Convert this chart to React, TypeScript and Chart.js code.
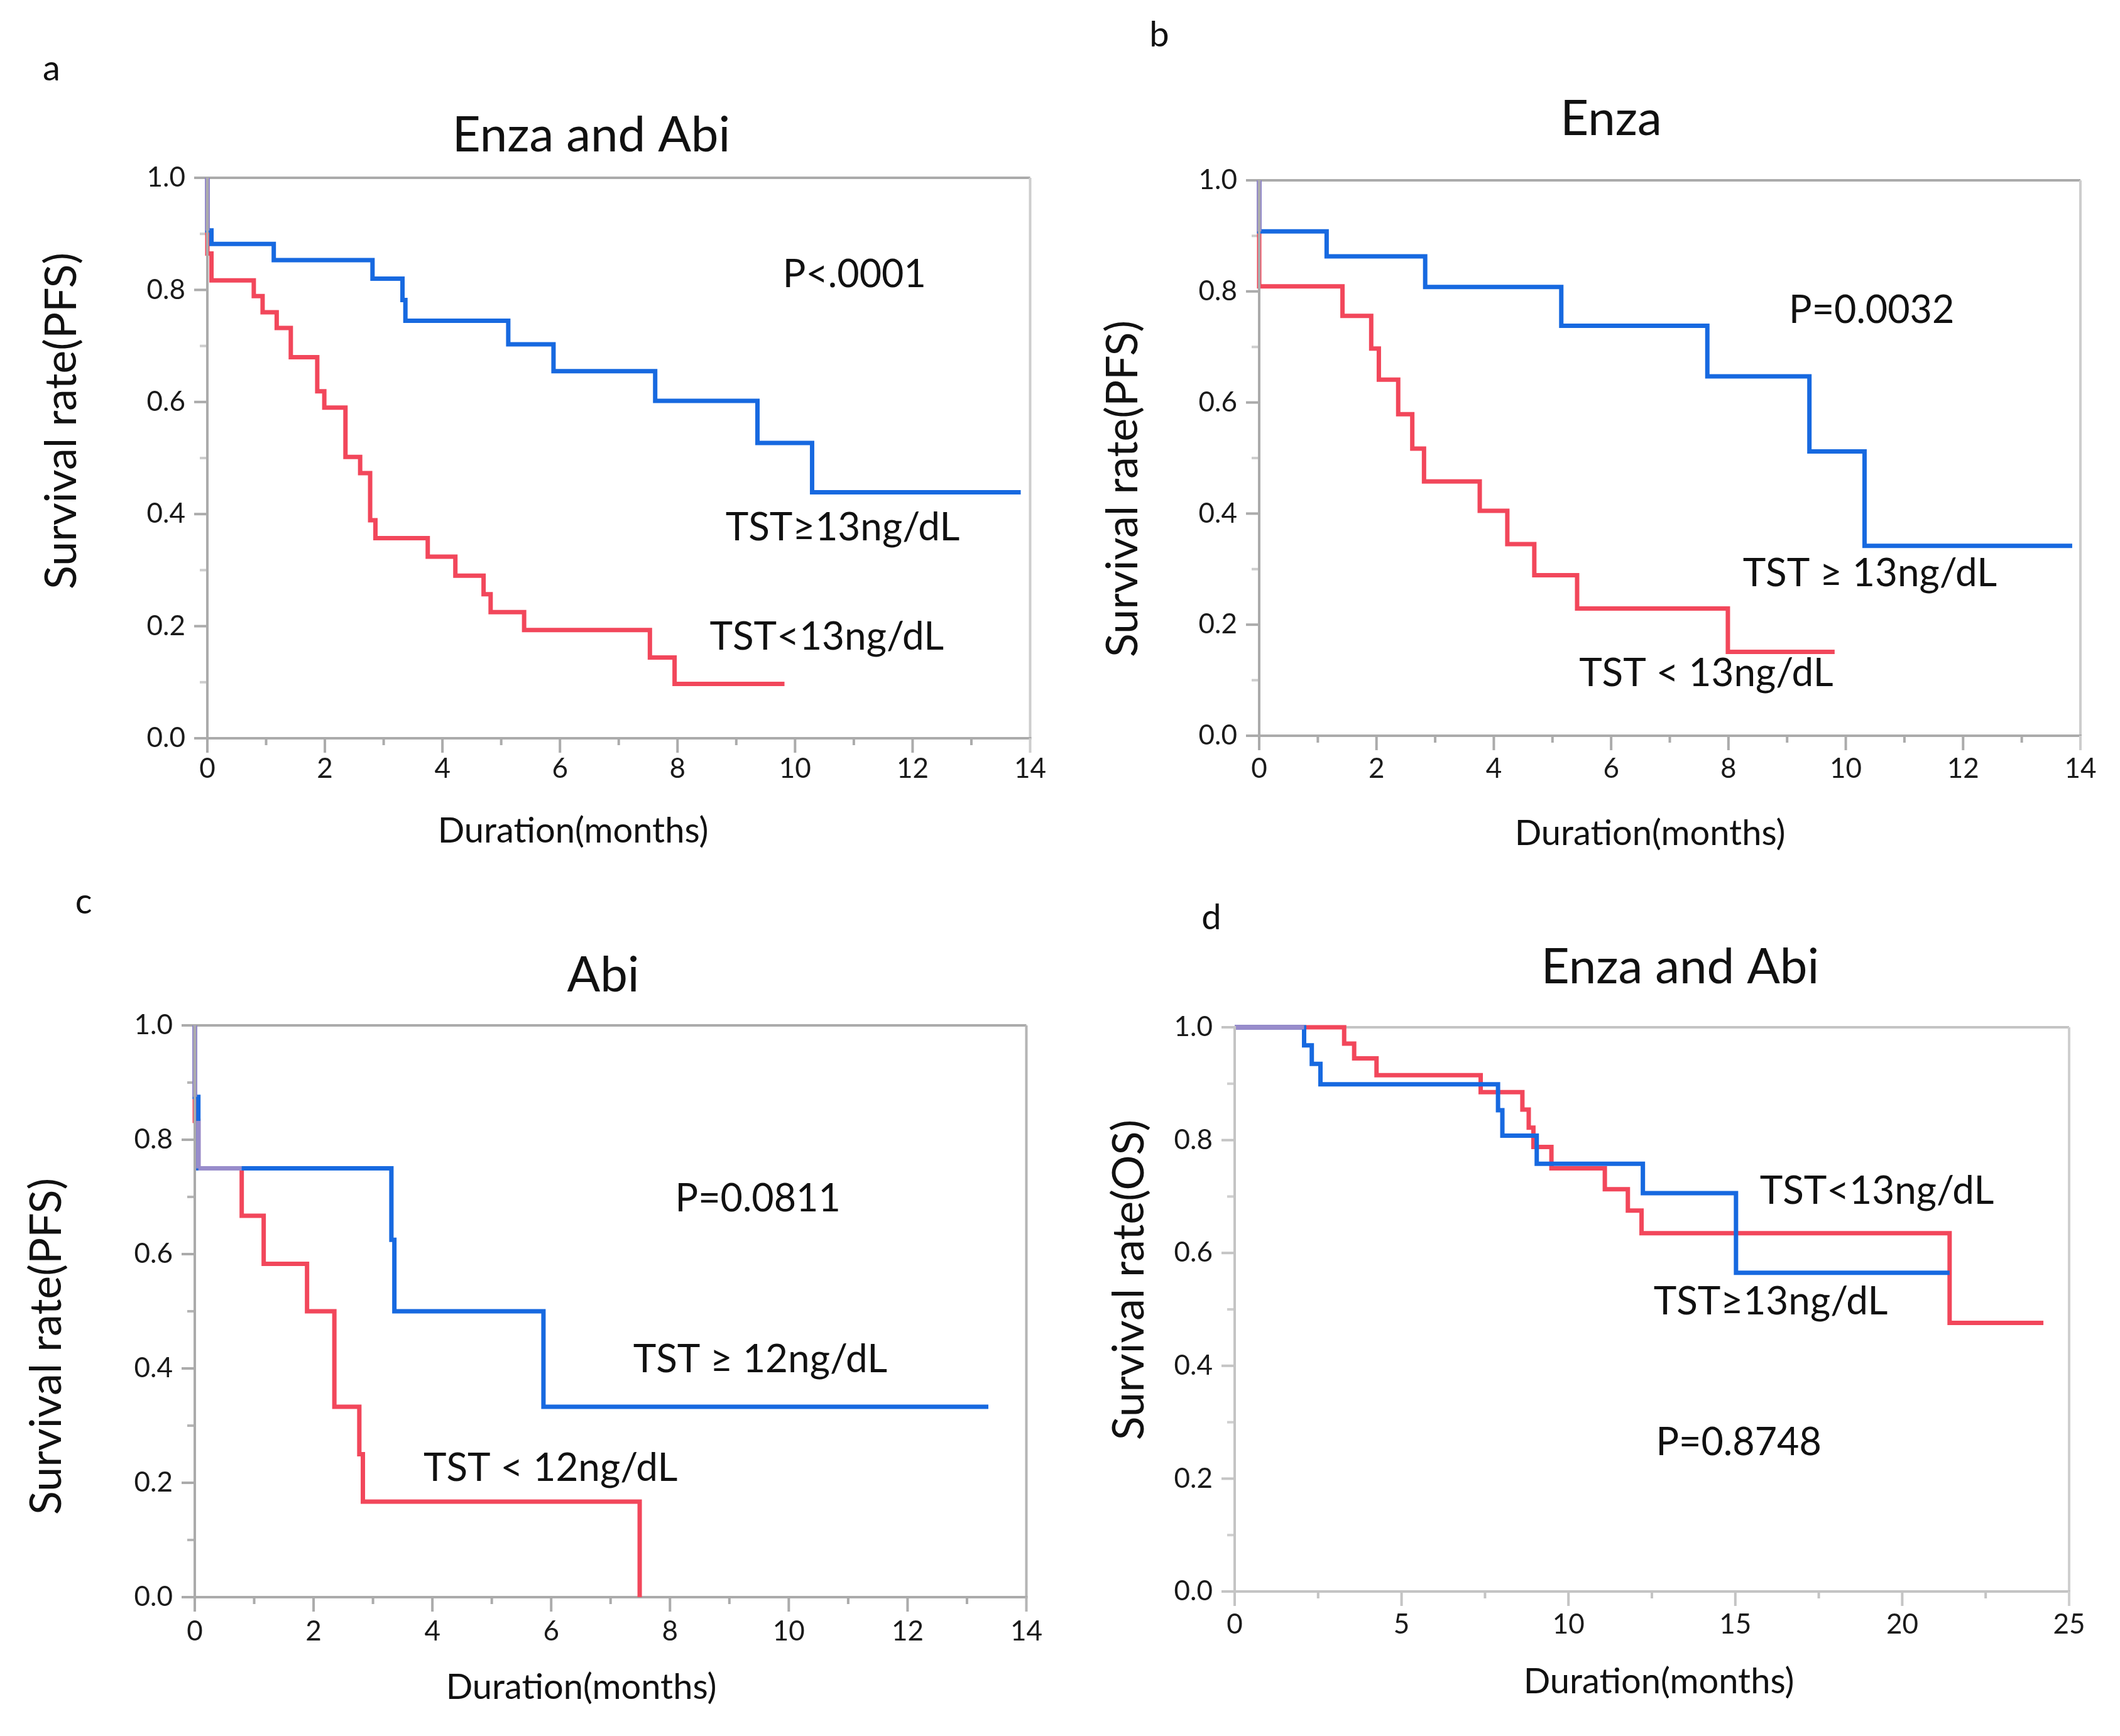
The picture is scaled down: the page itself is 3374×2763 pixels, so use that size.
import React, { useEffect, useRef } from 'react';
import { Chart, registerables } from 'chart.js';

Chart.register(...registerables);

// ---------------- data ----------------
// Panel a: Enza and Abi (PFS)
const aHighTimes = [0, 0, 0.07, 1.13, 2.81, 3.32, 3.37, 5.12, 5.89, 7.62, 9.36, 10.29, 13.84];
const aHighSurv = [1, 0.906, 0.882, 0.853, 0.82, 0.782, 0.745, 0.703, 0.655, 0.602, 0.527, 0.439, 0.439];
const aLowTimes = [0, 0, 0.07, 0.79, 0.94, 1.18, 1.42, 1.87, 1.99, 2.35, 2.6, 2.77, 2.86, 3.75, 4.22, 4.7, 4.82, 5.39, 7.53, 7.95, 9.82];
const aLowSurv = [1, 0.865, 0.817, 0.789, 0.76, 0.732, 0.68, 0.619, 0.59, 0.502, 0.473, 0.389, 0.357, 0.324, 0.29, 0.257, 0.225, 0.193, 0.144, 0.097, 0.097];

// Panel b: Enza (PFS)
const bHighTimes = [0, 0, 1.15, 2.83, 5.15, 7.64, 9.38, 10.32, 13.86];
const bHighSurv = [1, 0.908, 0.863, 0.808, 0.738, 0.647, 0.512, 0.342, 0.342];
const bLowTimes = [0, 0, 1.42, 1.91, 2.04, 2.37, 2.61, 2.81, 3.76, 4.23, 4.69, 5.42, 7.99, 9.81];
const bLowSurv = [1, 0.809, 0.756, 0.697, 0.641, 0.579, 0.517, 0.458, 0.405, 0.345, 0.289, 0.229, 0.151, 0.151];

// Panel c: Abi (PFS)
const cHighTimes = [0, 0, 0.06, 3.31, 3.36, 5.87, 13.36];
const cHighSurv = [1, 0.875, 0.75, 0.625, 0.5, 0.333, 0.333];
const cLowTimes = [0, 0, 0.06, 0.79, 1.16, 1.89, 2.35, 2.77, 2.83, 7.49];
const cLowSurv = [1, 0.833, 0.75, 0.667, 0.583, 0.5, 0.333, 0.25, 0.167, 0];

// Panel d: Enza and Abi (OS)
const dHighTimes = [0, 2.08, 2.31, 2.57, 7.89, 8.02, 9.05, 12.23, 15.02, 21.42];
const dHighSurv = [1, 0.968, 0.935, 0.899, 0.853, 0.808, 0.758, 0.706, 0.565, 0.565];
const dLowTimes = [0, 3.28, 3.58, 4.25, 7.37, 8.62, 8.81, 8.95, 9.49, 11.09, 11.78, 12.19, 21.42, 24.23];
const dLowSurv = [1, 0.971, 0.945, 0.915, 0.885, 0.854, 0.822, 0.788, 0.75, 0.713, 0.675, 0.635, 0.476, 0.476];

// tick values
const monthTicks14 = [0, 2, 4, 6, 8, 10, 12, 14];
const monthTicks25 = [0, 5, 10, 15, 20, 25];
const survTicks = [0, 0.2, 0.4, 0.6, 0.8, 1.0];

// ---------------- styling / layout ----------------
const FONT = 'Lato, "Open Sans", "DejaVu Sans", sans-serif';
const BLUE = '#1769e0';
const RED = '#f2475b';
const PURPLE = '#988ccb';
const LINE_W = 7;
const Y_AXIS_W = 130;
const X_AXIS_H = 100;

type Txt = { text: string; x: number; y: number; size: number; rotate?: boolean };
type PanelCfg = {
  left: number; top: number; width: number; height: number;
  area: { l: number; t: number; r: number; b: number }; // page coords
  xMax: number; xTicks: number[]; xTickPad: number;
  high: { t: number[]; s: number[]; label: string };
  low: { t: number[]; s: number[]; label: string };
  axisColor: string; frameColor: string;
  pageTexts: Txt[]; // page coordinates
  dataTexts: Txt[]; // data coordinates (months, survival)
};

const panels: PanelCfg[] = [
  {
    left: 0, top: 0, width: 1687, height: 1400,
    area: { l: 330, t: 283, r: 1645, b: 1175 },
    xMax: 14, xTicks: monthTicks14, xTickPad: 22,
    high: { t: aHighTimes, s: aHighSurv, label: 'TST≥13ng/dL' },
    low: { t: aLowTimes, s: aLowSurv, label: 'TST<13ng/dL' },
    axisColor: '#ababab', frameColor: '#cdcdcd',
    pageTexts: [
      { text: 'a', x: 82, y: 110, size: 56 },
      { text: 'Enza and Abi', x: 941, y: 216, size: 78 },
      { text: 'Survival rate(PFS)', x: 98, y: 670, size: 70, rotate: true },
      { text: 'Duration(months)', x: 912, y: 1323, size: 56 },
    ],
    dataTexts: [
      { text: 'P<.0001', x: 11.01, y: 0.827, size: 61 },
      { text: 'TST≥13ng/dL', x: 10.81, y: 0.376, size: 62 },
      { text: 'TST<13ng/dL', x: 10.54, y: 0.18, size: 62 },
    ],
  },
  {
    left: 1687, top: 0, width: 1687, height: 1400,
    area: { l: 2004, t: 287, r: 3311, b: 1171 },
    xMax: 14, xTicks: monthTicks14, xTickPad: 26,
    high: { t: bHighTimes, s: bHighSurv, label: 'TST ≥ 13ng/dL' },
    low: { t: bLowTimes, s: bLowSurv, label: 'TST < 13ng/dL' },
    axisColor: '#ababab', frameColor: '#cdcdcd',
    pageTexts: [
      { text: 'b', x: 1845, y: 56, size: 56 },
      { text: 'Enza', x: 2564, y: 190, size: 78 },
      { text: 'Survival rate(PFS)', x: 1787, y: 778, size: 70, rotate: true },
      { text: 'Duration(months)', x: 2626, y: 1327, size: 56 },
    ],
    dataTexts: [
      { text: 'P=0.0032', x: 10.44, y: 0.766, size: 61 },
      { text: 'TST ≥ 13ng/dL', x: 10.41, y: 0.292, size: 62 },
      { text: 'TST < 13ng/dL', x: 7.62, y: 0.112, size: 62 },
    ],
  },
  {
    left: 0, top: 1400, width: 1687, height: 1363,
    area: { l: 310, t: 1632, r: 1656, b: 2542 },
    xMax: 14, xTicks: monthTicks14, xTickPad: 28,
    high: { t: cHighTimes, s: cHighSurv, label: 'TST ≥ 12ng/dL' },
    low: { t: cLowTimes, s: cLowSurv, label: 'TST < 12ng/dL' },
    axisColor: '#ababab', frameColor: '#b5b5b5',
    pageTexts: [
      { text: 'c', x: 133, y: 1436, size: 56 },
      { text: 'Abi', x: 960, y: 1553, size: 78 },
      { text: 'Survival rate(PFS)', x: 74, y: 2143, size: 70, rotate: true },
      { text: 'Duration(months)', x: 925, y: 2686, size: 56 },
    ],
    dataTexts: [
      { text: 'P=0.0811', x: 9.48, y: 0.696, size: 61 },
      { text: 'TST ≥ 12ng/dL', x: 9.52, y: 0.415, size: 62 },
      { text: 'TST < 12ng/dL', x: 5.99, y: 0.225, size: 62 },
    ],
  },
  {
    left: 1687, top: 1400, width: 1687, height: 1363,
    area: { l: 1965, t: 1635, r: 3293, b: 2533 },
    xMax: 25, xTicks: monthTicks25, xTickPad: 26,
    high: { t: dHighTimes, s: dHighSurv, label: 'TST≥13ng/dL' },
    low: { t: dLowTimes, s: dLowSurv, label: 'TST<13ng/dL' },
    axisColor: '#c4c4c4', frameColor: '#cfcfcf',
    pageTexts: [
      { text: 'd', x: 1928, y: 1461, size: 56 },
      { text: 'Enza and Abi', x: 2674, y: 1540, size: 78 },
      { text: 'Survival rate(OS)', x: 1797, y: 2037, size: 70, rotate: true },
      { text: 'Duration(months)', x: 2640, y: 2677, size: 56 },
    ],
    dataTexts: [
      { text: 'TST<13ng/dL', x: 19.24, y: 0.709, size: 62 },
      { text: 'TST≥13ng/dL', x: 16.06, y: 0.513, size: 62 },
      { text: 'P=0.8748', x: 15.1, y: 0.263, size: 61 },
    ],
  },
];

// ---------------- helpers ----------------
type Seg = { x1: number; y1: number; x2: number; y2: number };

function toPoints(t: number[], s: number[]) {
  return t.map((x, i) => ({ x, y: s[i] }));
}

function stepSegments(t: number[], s: number[]): Seg[] {
  const segs: Seg[] = [];
  for (let i = 1; i < t.length; i++) {
    if (t[i] !== t[i - 1]) segs.push({ x1: t[i - 1], y1: s[i - 1], x2: t[i], y2: s[i - 1] });
    if (s[i] !== s[i - 1]) segs.push({ x1: t[i], y1: s[i - 1], x2: t[i], y2: s[i] });
  }
  return segs;
}

function overlapSegments(a: Seg[], b: Seg[]): Seg[] {
  const out: Seg[] = [];
  for (const p of a) {
    for (const q of b) {
      const pH = p.y1 === p.y2;
      const qH = q.y1 === q.y2;
      if (pH && qH && p.y1 === q.y1) {
        const lo = Math.max(Math.min(p.x1, p.x2), Math.min(q.x1, q.x2));
        const hi = Math.min(Math.max(p.x1, p.x2), Math.max(q.x1, q.x2));
        if (hi > lo) out.push({ x1: lo, y1: p.y1, x2: hi, y2: p.y1 });
      } else if (!pH && !qH && p.x1 === q.x1) {
        const lo = Math.max(Math.min(p.y1, p.y2), Math.min(q.y1, q.y2));
        const hi = Math.min(Math.max(p.y1, p.y2), Math.max(q.y1, q.y2));
        if (hi > lo) out.push({ x1: p.x1, y1: lo, x2: p.x1, y2: hi });
      }
    }
  }
  return out;
}

function makeDecorPlugin(cfg: PanelCfg) {
  const line = (ctx: CanvasRenderingContext2D, x1: number, y1: number, x2: number, y2: number) => {
    ctx.beginPath();
    ctx.moveTo(x1, y1);
    ctx.lineTo(x2, y2);
    ctx.stroke();
  };
  return {
    id: 'kmDecor',
    beforeDatasetsDraw(chart: any) {
      const { ctx, chartArea: ca, scales } = chart;
      const xs = scales.x;
      const ys = scales.y;
      ctx.save();
      ctx.lineCap = 'butt';
      ctx.lineWidth = 4;
      // frame (top, right)
      ctx.strokeStyle = cfg.axisColor;
      line(ctx, ca.left - 2, ca.top, ca.right, ca.top);
      ctx.strokeStyle = cfg.frameColor;
      line(ctx, ca.right, ca.top, ca.right, ca.bottom);
      // bottom axis
      ctx.strokeStyle = cfg.axisColor;
      line(ctx, ca.left, ca.bottom, ca.right + 2, ca.bottom);
      // x ticks
      const xt = cfg.xTicks;
      for (let i = 0; i < xt.length; i++) {
        const px = xs.getPixelForValue(xt[i]);
        ctx.strokeStyle = i === xt.length - 1 ? cfg.frameColor : cfg.axisColor;
        line(ctx, px, ca.bottom, px, ca.bottom + 23);
        if (i < xt.length - 1) {
          const mx = xs.getPixelForValue((xt[i] + xt[i + 1]) / 2);
          ctx.strokeStyle = cfg.axisColor;
          line(ctx, mx, ca.bottom, mx, ca.bottom + 11);
        }
      }
      // y ticks
      for (let i = 0; i < survTicks.length; i++) {
        const py = ys.getPixelForValue(survTicks[i]);
        ctx.strokeStyle = cfg.axisColor;
        line(ctx, ca.left - 21, py, ca.left, py);
        if (i < survTicks.length - 1) {
          const my = ys.getPixelForValue((survTicks[i] + survTicks[i + 1]) / 2);
          ctx.strokeStyle = cfg.frameColor;
          line(ctx, ca.left - 12, my, ca.left, my);
        }
      }
      ctx.restore();
    },
    afterDatasetsDraw(chart: any) {
      const { ctx, chartArea: ca, scales } = chart;
      const xs = scales.x;
      const ys = scales.y;
      ctx.save();
      // overlapping parts of the two curves
      const ov = overlapSegments(stepSegments(cfg.high.t, cfg.high.s), stepSegments(cfg.low.t, cfg.low.s));
      ctx.strokeStyle = PURPLE;
      ctx.lineWidth = LINE_W;
      ctx.lineCap = 'butt';
      for (const s of ov) {
        line(ctx, xs.getPixelForValue(s.x1), ys.getPixelForValue(s.y1), xs.getPixelForValue(s.x2), ys.getPixelForValue(s.y2));
      }
      // left axis on top
      ctx.strokeStyle = cfg.axisColor;
      ctx.lineWidth = 4;
      line(ctx, ca.left, ca.top - 2, ca.left, ca.bottom + 2);
      // texts
      ctx.fillStyle = '#111';
      ctx.textAlign = 'center';
      ctx.textBaseline = 'middle';
      for (const t of cfg.pageTexts) {
        const x = t.x - cfg.left;
        const y = t.y - cfg.top;
        ctx.font = `${t.size}px ${FONT}`;
        if (t.rotate) {
          ctx.save();
          ctx.translate(x, y);
          ctx.rotate(-Math.PI / 2);
          ctx.fillText(t.text, 0, 0);
          ctx.restore();
        } else {
          ctx.fillText(t.text, x, y);
        }
      }
      for (const t of cfg.dataTexts) {
        ctx.font = `${t.size}px ${FONT}`;
        ctx.fillText(t.text, xs.getPixelForValue(t.x), ys.getPixelForValue(t.y));
      }
      ctx.restore();
    },
  };
}

function KMPanel({ cfg }: { cfg: PanelCfg }) {
  const ref = useRef<HTMLCanvasElement | null>(null);
  useEffect(() => {
    if (!ref.current) return;
    const a = cfg.area;
    const chart = new Chart(ref.current, {
      type: 'line',
      data: {
        datasets: [
          {
            label: cfg.high.label,
            data: toPoints(cfg.high.t, cfg.high.s),
            borderColor: BLUE,
            backgroundColor: BLUE,
            borderWidth: LINE_W,
            stepped: 'before',
            pointRadius: 0,
            fill: false,
            clip: false as any,
            borderJoinStyle: 'miter',
            borderCapStyle: 'butt',
          },
          {
            label: cfg.low.label,
            data: toPoints(cfg.low.t, cfg.low.s),
            borderColor: RED,
            backgroundColor: RED,
            borderWidth: LINE_W,
            stepped: 'before',
            pointRadius: 0,
            fill: false,
            clip: false as any,
            borderJoinStyle: 'miter',
            borderCapStyle: 'butt',
          },
        ],
      },
      options: {
        animation: false,
        responsive: true,
        maintainAspectRatio: false,
        events: [],
        layout: {
          padding: {
            left: a.l - cfg.left - Y_AXIS_W,
            top: a.t - cfg.top,
            right: cfg.left + cfg.width - a.r,
            bottom: cfg.top + cfg.height - a.b - X_AXIS_H,
          },
        },
        plugins: {
          legend: { display: false },
          tooltip: { enabled: false },
          title: { display: false },
        },
        scales: {
          x: {
            type: 'linear',
            min: 0,
            max: cfg.xMax,
            grid: { display: false, drawTicks: false },
            border: { display: false },
            ticks: {
              font: { family: FONT, size: 44 },
              color: '#1a1a1a',
              padding: cfg.xTickPad,
              maxRotation: 0,
              autoSkip: false,
              callback: (v: any) => String(v),
            },
            afterBuildTicks: (ax: any) => {
              ax.ticks = cfg.xTicks.map((v) => ({ value: v }));
            },
            afterFit: (ax: any) => {
              ax.height = X_AXIS_H;
            },
          },
          y: {
            type: 'linear',
            min: 0,
            max: 1,
            grid: { display: false, drawTicks: false },
            border: { display: false },
            ticks: {
              font: { family: FONT, size: 44 },
              color: '#1a1a1a',
              padding: 35,
              autoSkip: false,
              callback: (v: any) => Number(v).toFixed(1),
            },
            afterBuildTicks: (ax: any) => {
              ax.ticks = survTicks.map((v) => ({ value: v }));
            },
            afterFit: (ax: any) => {
              ax.width = Y_AXIS_W;
            },
          },
        },
      },
      plugins: [makeDecorPlugin(cfg)],
    });
    return () => chart.destroy();
  }, [cfg]);
  return (
    <div style={{ position: 'absolute', left: cfg.left, top: cfg.top, width: cfg.width, height: cfg.height }}>
      <canvas ref={ref} />
    </div>
  );
}

export default function App() {
  return (
    <div style={{ position: 'absolute', left: 0, top: 0, width: 3374, height: 2763, background: '#ffffff', overflow: 'hidden' }}>
      {panels.map((p, i) => (
        <KMPanel key={i} cfg={p} />
      ))}
    </div>
  );
}
